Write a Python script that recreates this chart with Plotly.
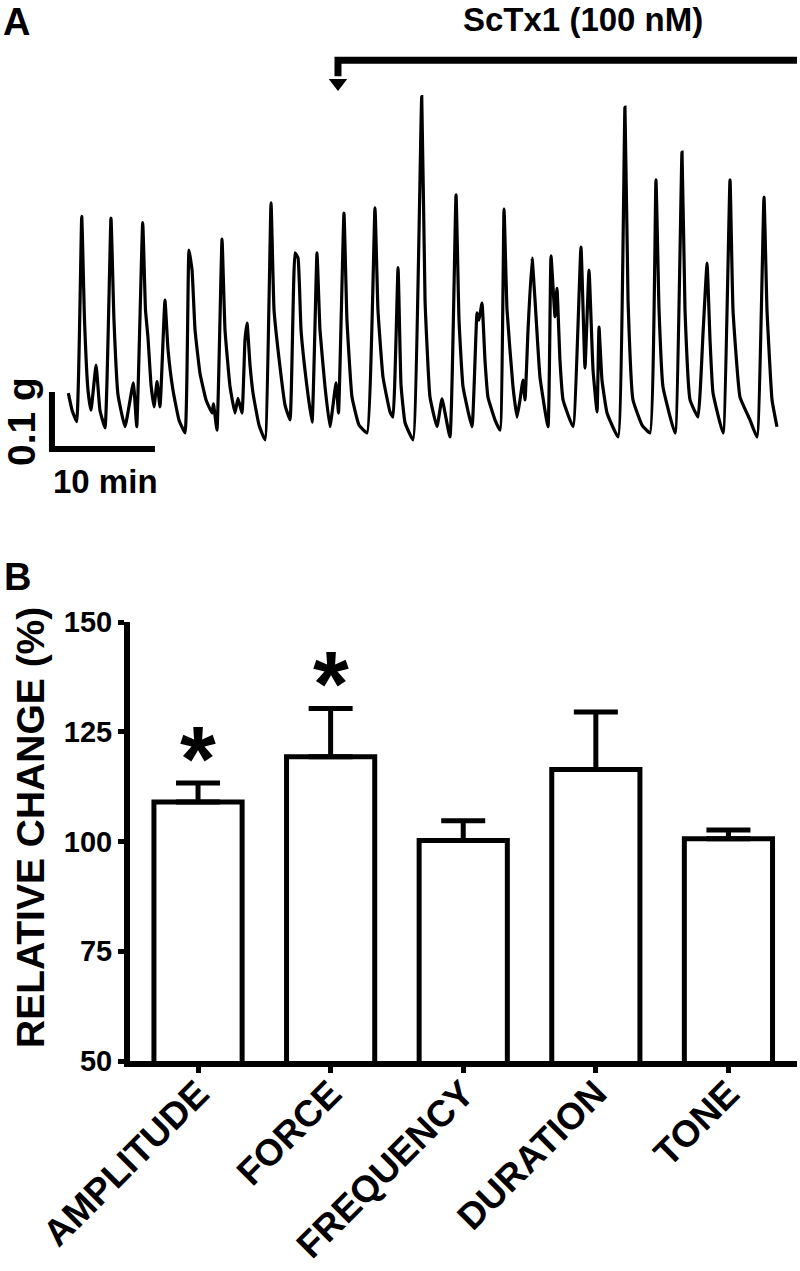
import plotly.graph_objects as go

# ---------------- Panel A: contraction recording ----------------
# time in minutes, tension in grams (above an arbitrary baseline)
trace_time = [
    0.13, 0.49, 0.94, 1.43, 1.70, 2.04, 2.33, 2.82, 3.20, 3.69,
    4.27, 4.56, 4.95, 5.63, 6.44, 6.77, 7.35, 7.62, 7.86, 8.16,
    8.45, 8.74, 9.03, 9.51, 9.81, 10.29, 10.87, 11.46, 11.84, 12.14,
    12.43, 12.91, 13.50, 14.08, 14.22, 14.56, 15.05, 15.34, 15.83, 16.31,
    16.60, 16.99, 17.28, 17.48, 17.77, 18.06, 18.64, 19.22, 19.81, 20.10,
    20.68, 21.17, 21.65, 22.14, 22.43, 22.72, 23.30, 23.79, 24.27, 24.56,
    25.05, 25.53, 26.12, 26.36, 26.89, 27.18, 27.67, 28.35, 29.13, 29.90,
    30.19, 30.68, 31.36, 31.65, 32.14, 32.43, 32.82, 33.59, 34.44, 34.76,
    35.24, 35.92, 36.41, 37.18, 37.77, 38.06, 38.45, 39.32, 39.81, 40.00,
    40.29, 40.58, 40.87, 41.55, 42.04, 42.43, 42.72, 43.30, 43.69, 43.98,
    44.27, 44.47, 44.76, 45.15, 45.44, 45.92, 46.70, 46.99, 47.38, 47.57,
    47.86, 48.16, 49.13, 49.90, 50.29, 50.68, 51.07, 51.46, 51.65, 51.94,
    52.43, 53.50, 54.17, 54.47, 54.95, 55.83, 56.60, 57.18, 57.48, 57.86,
    59.03, 59.71, 60.00, 60.49, 61.26, 61.75, 62.14, 62.43, 62.72, 63.69,
    64.37, 64.66, 65.34, 66.31, 66.99, 67.67, 67.96, 68.45, 68.93,
]
trace_tension = [
    0.091, 0.061, 0.041, 0.401, 0.219, 0.096, 0.061, 0.140, 0.061, 0.030,
    0.398, 0.219, 0.088, 0.032, 0.109, 0.032, 0.390, 0.237, 0.189, 0.105,
    0.067, 0.111, 0.067, 0.254, 0.167, 0.096, 0.044, 0.021, 0.342, 0.307,
    0.202, 0.126, 0.079, 0.056, 0.072, 0.026, 0.361, 0.202, 0.102, 0.056,
    0.082, 0.056, 0.184, 0.214, 0.140, 0.091, 0.035, 0.009, 0.425, 0.237,
    0.137, 0.070, 0.044, 0.337, 0.328, 0.202, 0.102, 0.040, 0.337, 0.202,
    0.102, 0.032, 0.109, 0.056, 0.407, 0.219, 0.084, 0.035, 0.021, 0.416,
    0.237, 0.119, 0.058, 0.049, 0.311, 0.105, 0.039, 0.009, 0.611, 0.254,
    0.084, 0.032, 0.081, 0.014, 0.439, 0.219, 0.102, 0.032, 0.232, 0.219,
    0.249, 0.149, 0.084, 0.044, 0.026, 0.414, 0.237, 0.102, 0.049, 0.079,
    0.114, 0.079, 0.202, 0.328, 0.254, 0.119, 0.032, 0.332, 0.225, 0.275,
    0.149, 0.079, 0.032, 0.347, 0.135, 0.307, 0.132, 0.058, 0.207, 0.114,
    0.056, 0.014, 0.593, 0.254, 0.079, 0.035, 0.021, 0.465, 0.237, 0.102,
    0.021, 0.514, 0.237, 0.079, 0.049, 0.196, 0.319, 0.184, 0.091, 0.021,
    0.465, 0.237, 0.084, 0.044, 0.014, 0.435, 0.237, 0.079, 0.032,
]

# ScTx1 application bracket
drug_label = "ScTx1 (100 nM)"
drug_start_min = 26.31
drug_end_min = 70.87
drug_bar_g = 0.675
drug_arrow_g = 0.635

# scale bars
scale_origin_min = -1.46
scale_origin_g = -0.007
scale_time_min = 10
scale_tension_g = 0.1
scale_time_label = "10 min"
scale_tension_label = "0.1 g"

# ---------------- Panel B: summary bars ----------------
categories = ["AMPLITUDE", "FORCE", "FREQUENCY", "DURATION", "TONE"]
rel_change = [109.0, 119.3, 100.2, 116.4, 100.6]
sem = [4.3, 11.0, 4.5, 13.1, 2.0]
significant = [True, True, False, False, False]
y_ticks = [50, 75, 100, 125, 150]
y_title = "RELATIVE CHANGE (%)"

# ---------------- figure ----------------
W, H = 800, 1271
FONT = "Liberation Sans, Arial, sans-serif"


def fx(px):
    return px / W


def fy(py):
    return 1 - py / H


fig = go.Figure()

fig.add_trace(go.Scatter(x=trace_time, y=trace_tension, mode="lines",
                         line=dict(color="black", width=3.2, shape="spline",
                                   smoothing=0.35),
                         xaxis="x", yaxis="y", hoverinfo="skip"))

# scale bars
fig.add_trace(go.Scatter(
    x=[scale_origin_min, scale_origin_min, scale_origin_min + scale_time_min],
    y=[scale_origin_g + scale_tension_g, scale_origin_g, scale_origin_g],
    mode="lines", line=dict(color="black", width=6),
    xaxis="x", yaxis="y", hoverinfo="skip"))

# drug bracket + arrow
fig.add_trace(go.Scatter(
    x=[drug_end_min, drug_start_min, drug_start_min],
    y=[drug_bar_g, drug_bar_g, drug_arrow_g + 0.012],
    mode="lines", line=dict(color="black", width=7),
    xaxis="x", yaxis="y", hoverinfo="skip"))
fig.add_trace(go.Scatter(
    x=[drug_start_min], y=[drug_arrow_g], mode="markers",
    marker=dict(symbol="triangle-down", size=16, color="black"),
    xaxis="x", yaxis="y", hoverinfo="skip"))

# bars
fig.add_trace(go.Bar(
    x=categories, y=rel_change, width=0.665,
    marker=dict(color="white", line=dict(color="black", width=5)),
    error_y=dict(type="data", symmetric=False, array=sem,
                 arrayminus=[0] * len(sem), color="black",
                 thickness=5, width=22),
    xaxis="x2", yaxis="y2", hoverinfo="skip"))

annotations = [
    dict(text="A", x=fx(2), y=1, xref="paper", yref="paper",
         xanchor="left", yanchor="top", showarrow=False, borderpad=0,
         font=dict(family=FONT, size=38, color="black", weight="bold")),
    dict(text="B", x=fx(2), y=fy(577), xref="paper", yref="paper",
         xanchor="left", yanchor="middle", showarrow=False,
         font=dict(family=FONT, size=38, color="black", weight="bold")),
    dict(text=drug_label, x=fx(583), y=1, xref="paper", yref="paper",
         xanchor="center", yanchor="top", showarrow=False, borderpad=0,
         font=dict(family=FONT, size=33, color="black", weight="bold")),
    dict(text=scale_time_label, x=fx(105), y=fy(481), xref="paper", yref="paper",
         xanchor="center", yanchor="middle", showarrow=False,
         font=dict(family=FONT, size=33, color="black", weight="bold")),
    dict(text=scale_tension_label, x=fx(21), y=fy(422), xref="paper", yref="paper",
         xanchor="center", yanchor="middle", showarrow=False, textangle=-90,
         font=dict(family=FONT, size=39, color="black", weight="bold")),
    dict(text=y_title, x=fx(30), y=fy(828), xref="paper", yref="paper",
         xanchor="center", yanchor="middle", showarrow=False, textangle=-90,
         font=dict(family=FONT, size=39, color="black", weight="bold")),
]
for cat, v, e, sig in zip(categories, rel_change, sem, significant):
    if sig:
        annotations.append(dict(
            text="*", x=cat, y=v + e, xref="x2", yref="y2",
            xanchor="center", yanchor="middle", yshift=24, showarrow=False,
            font=dict(family=FONT, size=92, color="black", weight="bold")))

fig.update_layout(
    width=W, height=H, margin=dict(l=0, r=0, t=0, b=0, autoexpand=False),
    paper_bgcolor="white", plot_bgcolor="white", showlegend=False,
    xaxis=dict(domain=[0, 1], range=[-6.505, 71.165], visible=False,
               anchor="y", fixedrange=True, automargin=False),
    yaxis=dict(domain=[fy(470), 1], range=[-0.0439, 0.7807], visible=False,
               anchor="x", fixedrange=True, automargin=False),
    xaxis2=dict(domain=[fx(130), fx(797)], range=[-0.513, 4.517], anchor="y2",
                automargin=False, fixedrange=True,
                showline=True, linewidth=6, linecolor="black", showgrid=False,
                zeroline=False, ticks="outside", ticklen=6, tickwidth=5,
                tickcolor="black", tickangle=-45, ticklabelstandoff=-16,
                tickfont=dict(family=FONT, size=37, color="black", weight="bold")),
    yaxis2=dict(domain=[fy(1061), fy(622)], range=[50, 150], anchor="x2",
                automargin=False, fixedrange=True,
                tickvals=y_ticks, showline=True, linewidth=6, linecolor="black",
                showgrid=False, zeroline=False, ticks="outside", ticklen=6,
                tickwidth=5, tickcolor="black",
                tickfont=dict(family=FONT, size=29, color="black", weight="bold")),
    annotations=annotations,
)

fig.write_html("out.html", config={"displayModeBar": False},
               post_script="document.body.style.margin='0px';")
